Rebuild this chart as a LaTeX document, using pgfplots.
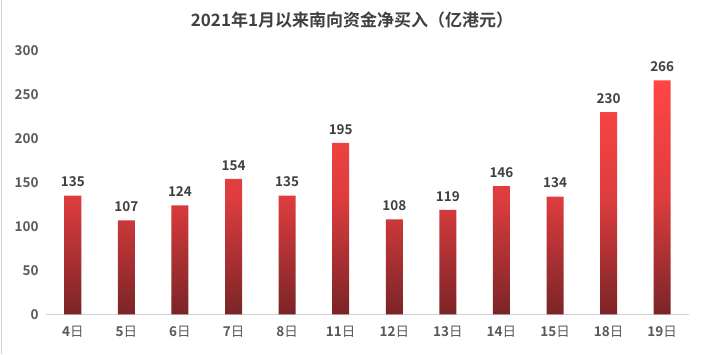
\documentclass[border=0pt]{standalone}
\usepackage{fontspec}
\usepackage{pgfplots}
\pgfplotsset{compat=1.18}
\setmainfont{Noto Sans CJK SC}[BoldFont={Noto Sans CJK SC Bold}]
\newfontfamily\cjk{Noto Sans CJK SC}[BoldFont={Noto Sans CJK SC Bold}]
\definecolor{txt}{HTML}{404040}
\definecolor{tick}{HTML}{595959}
\definecolor{barTop}{HTML}{FF4545}
\definecolor{barBot}{HTML}{7A2427}
\begin{document}
\begin{tikzpicture}
\path (0pt,0pt) rectangle (704pt,354pt);
\draw[black!18, line width=1pt] (1pt,0pt) -- (1pt,354pt);
\node[font=\cjk\bfseries\fontsize{17}{19}\selectfont, text=txt] at (352pt,334pt) {2021年1月以来南向资金净买入（亿港元）};
\begin{axis}[
  at={(46pt,40pt)}, anchor=south west,
  scale only axis, width=643pt, height=264pt,
  xmin=-0.5, xmax=11.5, ymin=0, ymax=300,
  ytick={0,50,...,300},
  xtick=data,
  xticklabels={\textbf{4}日,\textbf{5}日,\textbf{6}日,\textbf{7}日,\textbf{8}日,\textbf{11}日,\textbf{12}日,\textbf{13}日,\textbf{14}日,\textbf{15}日,\textbf{18}日,\textbf{19}日},
  x tick label style={font=\cjk\fontsize{13.5}{15}\selectfont, text=tick, yshift=-8pt},
  yticklabel={\textbf{\pgfmathprintnumber{\tick}}},
  y tick label style={font=\fontsize{13.5}{15}\selectfont, text=tick, xshift=-4pt},
  /pgf/number format/assume math mode=true,
  axis x line*=bottom,
  axis y line*=left,
  x axis line style={draw=black!18, line width=0.8pt, -},
  y axis line style={draw=none},
  major tick length=0pt,
  tick style={draw=none},
  ybar, bar width=17pt,
  nodes near coords={\textbf{\pgfmathprintnumber{\pgfplotspointmeta}}},
  every node near coord/.append style={font=\fontsize{13.5}{15}\selectfont, text=txt, yshift=5pt},
  clip=false,
]
\addplot[draw=none, top color=barTop, bottom color=barBot, middle color=barTop!75!barBot] coordinates {
(0,135) (1,107) (2,124) (3,154) (4,135) (5,195) (6,108) (7,119) (8,146) (9,134) (10,230) (11,266)};
\end{axis}
\end{tikzpicture}
\end{document}
